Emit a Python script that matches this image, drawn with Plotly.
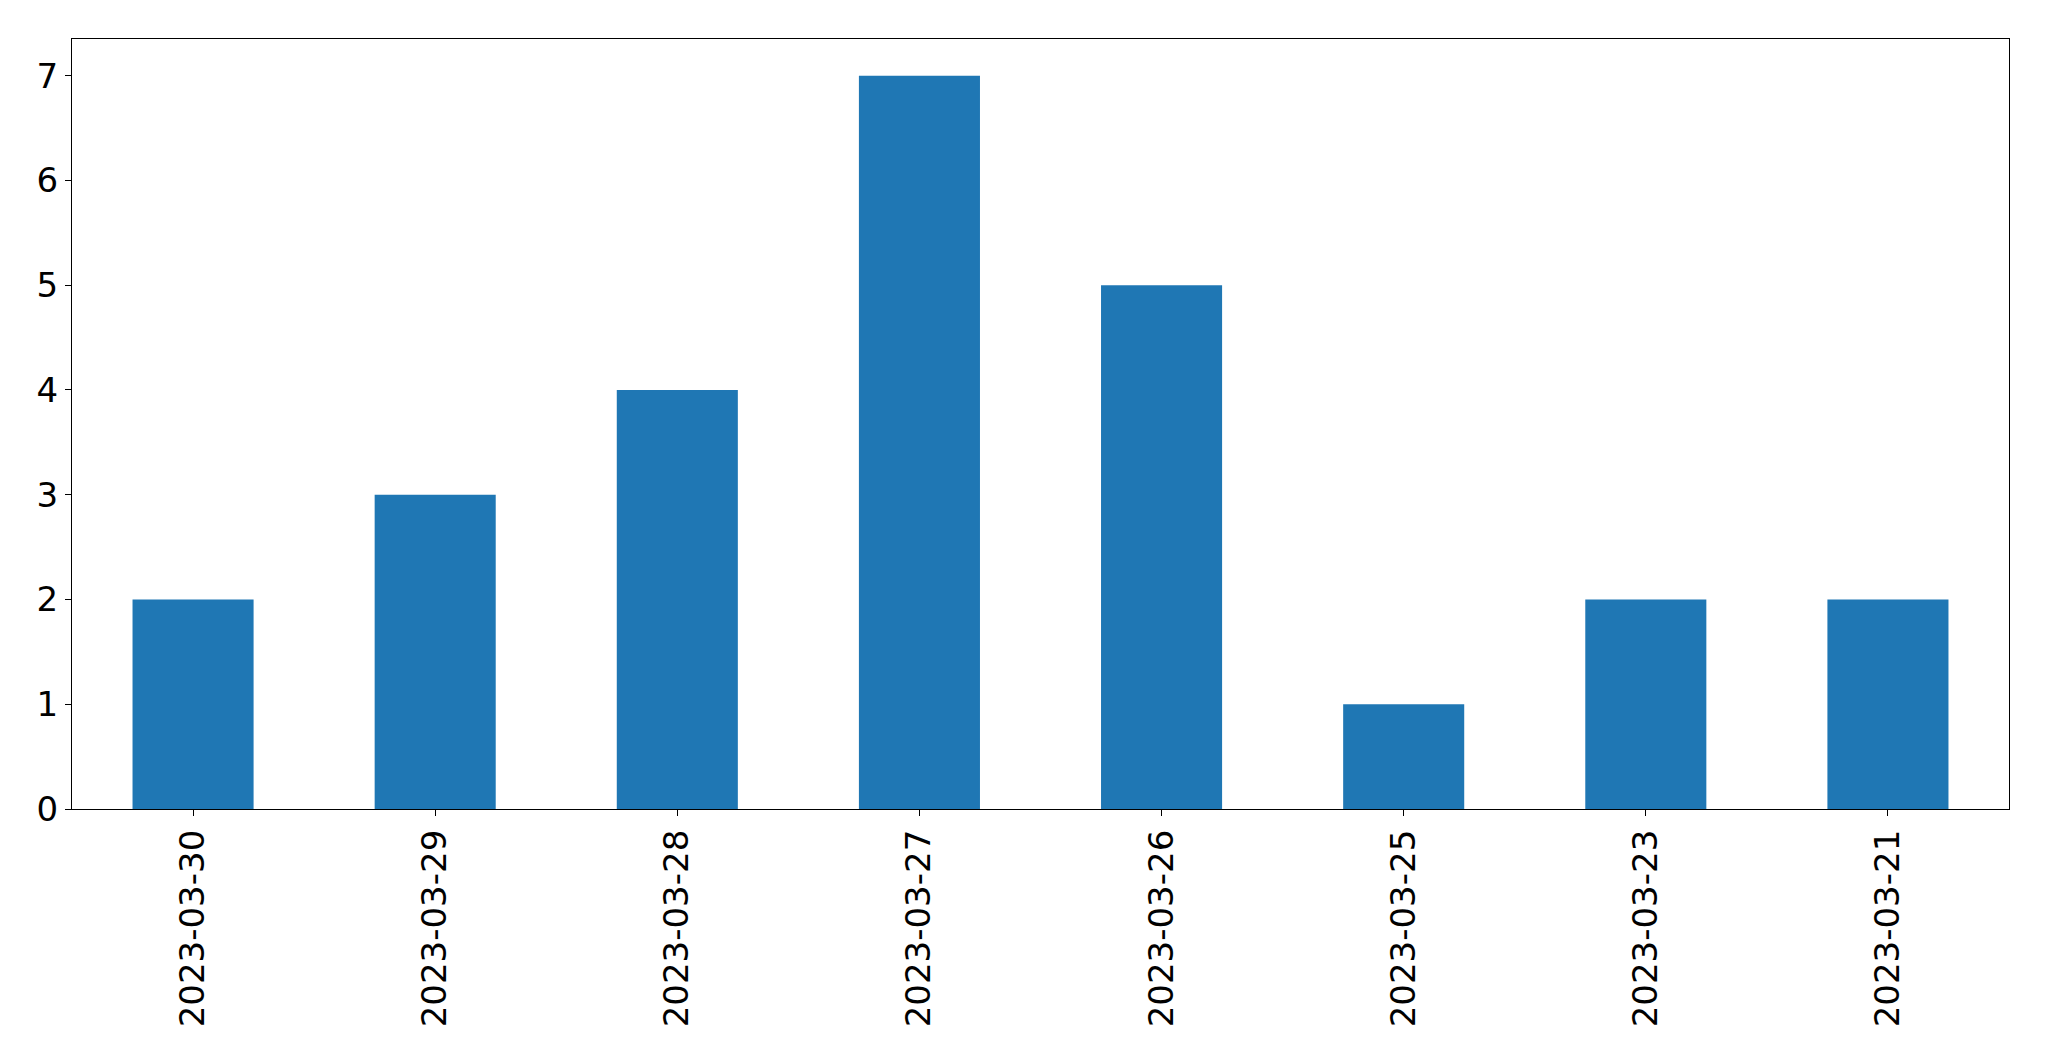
import plotly.graph_objects as go

dates = ['2023-03-30', '2023-03-29', '2023-03-28', '2023-03-27',
         '2023-03-26', '2023-03-25', '2023-03-23', '2023-03-21']
counts = [2, 3, 4, 7, 5, 1, 2, 2]

fig = go.Figure(go.Bar(x=dates, y=counts, width=0.5, marker=dict(color='#1f77b4', line=dict(width=0))))

font = dict(family='DejaVu Sans', size=34, color='black')
fig.update_layout(
    width=2033, height=1045,
    margin=dict(l=64, r=32, t=31, b=244),
    plot_bgcolor='white', paper_bgcolor='white',
    showlegend=False,
    font=font,
)
fig.update_xaxes(type='category', range=[-0.5, 7.5], tickangle=-90,
                 showline=True, linecolor='black', linewidth=1.3, mirror=True,
                 ticks='outside', ticklen=6, tickwidth=1.3, tickcolor='black',
                 showgrid=False, tickfont=font)
fig.update_yaxes(range=[0, 7.35], dtick=1,
                 showline=True, linecolor='black', linewidth=1.3, mirror=True,
                 ticks='outside', ticklen=6, tickwidth=1.3, tickcolor='black',
                 showgrid=False, zeroline=False, tickfont=font)

fig.write_html('out.html')
